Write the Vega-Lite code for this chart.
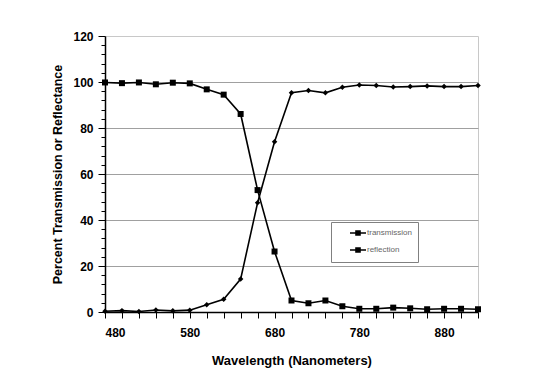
{
  "$schema": "https://vega.github.io/schema/vega-lite/v6.json",
  "width": 373,
  "height": 276,
  "autosize": "none",
  "padding": {"left": 105, "top": 36, "right": 56, "bottom": 59},
  "background": "white",
  "config": {
    "font": "Liberation Sans",
    "view": {"stroke": "#c8c8c8", "strokeWidth": 1},
    "axis": {
      "labelFont": "Liberation Sans",
      "titleFont": "Liberation Sans",
      "labelFontWeight": "bold",
      "titleFontWeight": "bold",
      "labelColor": "black",
      "titleColor": "black",
      "domainColor": "black",
      "tickColor": "black",
      "domainWidth": 1.5,
      "tickWidth": 1
    }
  },
  "data": {
    "values": [
      {"wavelength": 480, "series": "transmission", "value": 0.3},
      {"wavelength": 500, "series": "transmission", "value": 0.6},
      {"wavelength": 520, "series": "transmission", "value": 0.2},
      {"wavelength": 540, "series": "transmission", "value": 0.9},
      {"wavelength": 560, "series": "transmission", "value": 0.5},
      {"wavelength": 580, "series": "transmission", "value": 0.8},
      {"wavelength": 600, "series": "transmission", "value": 3.2},
      {"wavelength": 620, "series": "transmission", "value": 5.5},
      {"wavelength": 640, "series": "transmission", "value": 14.3},
      {"wavelength": 660, "series": "transmission", "value": 47.5},
      {"wavelength": 680, "series": "transmission", "value": 74},
      {"wavelength": 700, "series": "transmission", "value": 95.3},
      {"wavelength": 720, "series": "transmission", "value": 96.3},
      {"wavelength": 740, "series": "transmission", "value": 95.3},
      {"wavelength": 760, "series": "transmission", "value": 97.7},
      {"wavelength": 780, "series": "transmission", "value": 98.7},
      {"wavelength": 800, "series": "transmission", "value": 98.5},
      {"wavelength": 820, "series": "transmission", "value": 97.8},
      {"wavelength": 840, "series": "transmission", "value": 98.0},
      {"wavelength": 860, "series": "transmission", "value": 98.3},
      {"wavelength": 880, "series": "transmission", "value": 98.0},
      {"wavelength": 900, "series": "transmission", "value": 98.0},
      {"wavelength": 920, "series": "transmission", "value": 98.5},
      {"wavelength": 480, "series": "reflection", "value": 99.8},
      {"wavelength": 500, "series": "reflection", "value": 99.5},
      {"wavelength": 520, "series": "reflection", "value": 99.8},
      {"wavelength": 540, "series": "reflection", "value": 99.0},
      {"wavelength": 560, "series": "reflection", "value": 99.7},
      {"wavelength": 580, "series": "reflection", "value": 99.4},
      {"wavelength": 600, "series": "reflection", "value": 96.8},
      {"wavelength": 620, "series": "reflection", "value": 94.5},
      {"wavelength": 640, "series": "reflection", "value": 86.1},
      {"wavelength": 660, "series": "reflection", "value": 53.0},
      {"wavelength": 680, "series": "reflection", "value": 26.3},
      {"wavelength": 700, "series": "reflection", "value": 5.0},
      {"wavelength": 720, "series": "reflection", "value": 3.8},
      {"wavelength": 740, "series": "reflection", "value": 5.0},
      {"wavelength": 760, "series": "reflection", "value": 2.5},
      {"wavelength": 780, "series": "reflection", "value": 1.4},
      {"wavelength": 800, "series": "reflection", "value": 1.4},
      {"wavelength": 820, "series": "reflection", "value": 1.9},
      {"wavelength": 840, "series": "reflection", "value": 1.6},
      {"wavelength": 860, "series": "reflection", "value": 1.2},
      {"wavelength": 880, "series": "reflection", "value": 1.4},
      {"wavelength": 900, "series": "reflection", "value": 1.4},
      {"wavelength": 920, "series": "reflection", "value": 1.2}
    ]
  },
  "encoding": {
    "x": {
      "field": "wavelength",
      "type": "quantitative",
      "scale": {"domain": [480, 920], "nice": false, "zero": false},
      "axis": {
        "title": "Wavelength (Nanometers)",
        "values": [480, 500, 520, 540, 560, 580, 600, 620, 640, 660, 680, 700, 720, 740, 760, 780, 800, 820, 840, 860, 880, 900, 920],
        "labelExpr": "(datum.value - 480) % 100 == 0 ? datum.label : ''",
        "labelOverlap": false,
        "grid": false,
        "tickSize": 6,
        "labelPadding": 9,
        "labelFontSize": 12,
        "titleFontSize": 13,
        "titlePadding": 16
      }
    },
    "y": {
      "field": "value",
      "type": "quantitative",
      "scale": {"domain": [0, 120], "nice": false},
      "axis": {
        "title": "Percent Transmission or Reflectance",
        "values": [0, 4, 8, 12, 16, 20, 24, 28, 32, 36, 40, 44, 48, 52, 56, 60, 64, 68, 72, 76, 80, 84, 88, 92, 96, 100, 104, 108, 112, 116, 120],
        "labelExpr": "datum.value % 20 == 0 ? datum.label : ''",
        "labelOverlap": false,
        "tickSize": {"condition": {"test": "datum.value % 20 == 0", "value": 7}, "value": 4},
        "grid": true,
        "gridColor": "#a0a0a0",
        "gridWidth": 1,
        "gridOpacity": {"condition": {"test": "datum.value % 20 == 0 && datum.value < 120", "value": 1}, "value": 0},
        "labelPadding": 5,
        "labelFontSize": 12,
        "titleFontSize": 12.5,
        "titlePadding": 8
      }
    }
  },
  "layer": [
    {
      "mark": {"type": "line", "strokeWidth": 1.6},
      "encoding": {
        "color": {
          "field": "series",
          "type": "nominal",
          "sort": ["transmission", "reflection"],
          "scale": {"domain": ["transmission", "reflection"], "range": ["black", "black"]},
          "legend": {
            "title": null,
            "orient": "none",
            "legendX": 226,
            "legendY": 186,
            "strokeColor": "#808080",
            "fillColor": "white",
            "padding": 6,
            "symbolType": "M-2,0H2M-0.5,-0.5H0.5V0.5H-0.5Z",
            "symbolSize": 64,
            "symbolStrokeWidth": 1.6,
            "symbolFillColor": "black",
            "symbolStrokeColor": "black",
            "labelFontSize": 8,
            "labelColor": "#666666",
            "labelFontWeight": "normal",
            "rowPadding": 5,
            "labelOffset": 4,
            "symbolOffset": 16,
            "labelLimit": 100
          }
        },
        "detail": {"field": "series"}
      }
    },
    {
      "transform": [{"filter": "datum.series == 'transmission'"}],
      "mark": {"type": "point", "filled": true, "opacity": 1, "color": "black", "shape": "diamond", "size": 30}
    },
    {
      "transform": [{"filter": "datum.series == 'reflection'"}],
      "mark": {"type": "point", "filled": true, "opacity": 1, "color": "black", "shape": "square", "size": 36}
    }
  ]
}
